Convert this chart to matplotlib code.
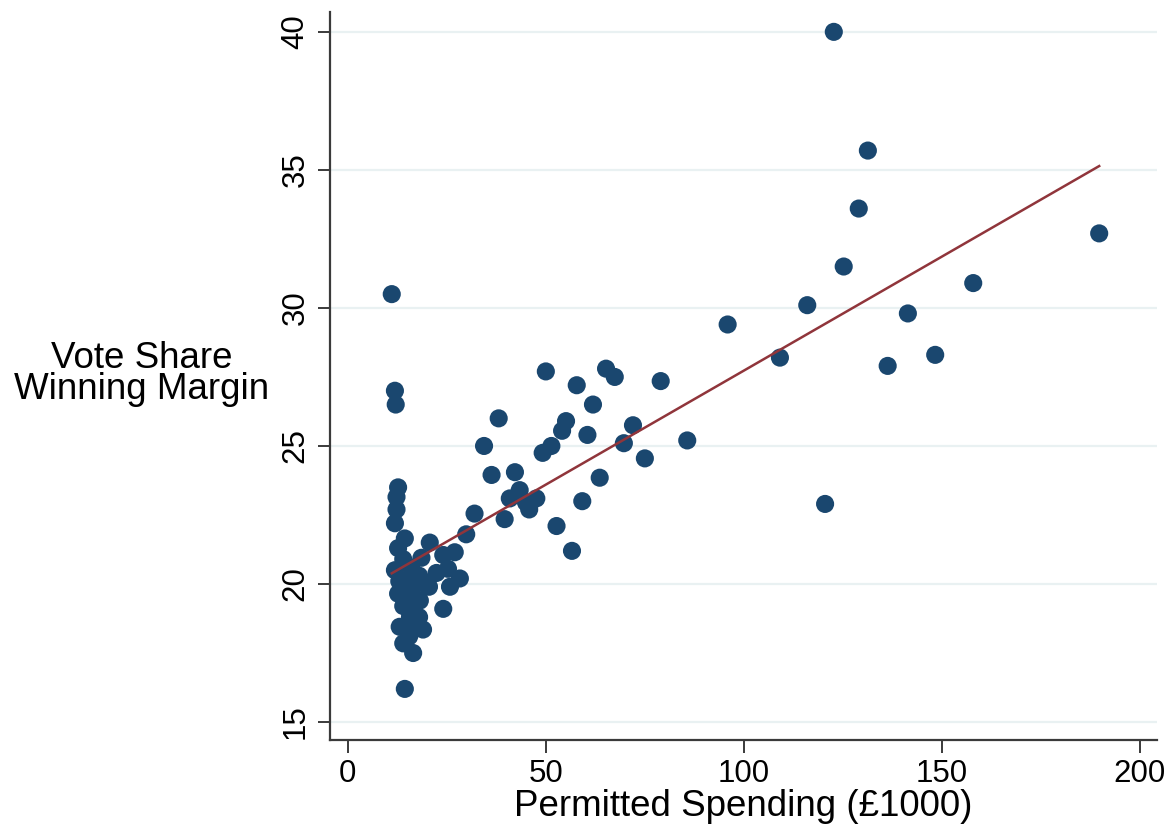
import numpy as np
import matplotlib
matplotlib.use("Agg")
import matplotlib.pyplot as plt

plt.rcParams.update({"font.family": ["Liberation Sans", "DejaVu Sans"]})

DOT = "#1a476f"
FIT = "#90353b"
GRID = "#e9f1f2"

# permitted spending (GBP 1000) and vote share winning margin
spend = [
    122.7, 131.3, 129.0, 125.2, 189.7, 157.9, 116.0, 141.4, 95.9, 109.1,
    148.3, 136.3, 120.5, 85.7, 11.1, 11.9, 12.1,
    50.0, 65.2, 67.4, 57.8, 79.0, 38.1, 55.1, 61.9, 54.1, 60.5,
    34.4, 51.4, 49.2, 72.0, 69.7, 75.0, 36.3, 42.2, 63.6, 43.4,
    40.9, 47.6, 45.8, 45.0, 59.2, 32.0, 39.6, 52.7, 56.6, 29.9,
    12.7, 12.3, 12.3, 11.9, 14.4, 12.7, 20.7, 24.1, 27.0, 18.6,
    11.9, 14.0, 16.0, 13.0, 15.5, 22.4, 25.3, 28.3, 18.0, 20.5,
    19.5, 25.8, 16.5, 12.7, 14.8, 18.2, 14.0, 16.5, 24.1, 15.7,
    18.0, 13.1, 15.0, 19.0, 17.0, 14.0, 15.5, 16.5, 14.4,
]
margin = [
    40.0, 35.7, 33.6, 31.5, 32.7, 30.9, 30.1, 29.8, 29.4, 28.2,
    28.3, 27.9, 22.9, 25.2, 30.5, 27.0, 26.5,
    27.7, 27.8, 27.5, 27.2, 27.35, 26.0, 25.9, 26.5, 25.55, 25.4,
    25.0, 25.0, 24.75, 25.75, 25.1, 24.55, 23.95, 24.05, 23.85, 23.4,
    23.1, 23.1, 22.7, 22.95, 23.0, 22.55, 22.35, 22.1, 21.2, 21.8,
    23.5, 23.15, 22.7, 22.2, 21.65, 21.3, 21.5, 21.05, 21.15, 20.95,
    20.5, 20.9, 20.6, 20.1, 20.2, 20.4, 20.55, 20.2, 20.3, 19.9,
    20.0, 19.9, 19.9, 19.65, 19.6, 19.4, 19.2, 19.1, 19.1, 18.8,
    18.8, 18.45, 18.5, 18.35, 18.4, 17.85, 18.1, 17.5, 16.2,
]

# linear fit as drawn in the figure (intercept, slope)
fit_a, fit_b = 19.47, 0.0826

x = np.array(spend)
y = np.array(margin)
xf = np.array([x.min(), x.max()])

fig = plt.figure(figsize=(11.68, 8.32), dpi=100)
ax = fig.add_axes([0.2825, 0.1106, 0.7081, 0.875])

ax.set_xlim(-4.5, 204.3)
ax.set_ylim(14.35, 40.72)
ax.set_yticks([15, 20, 25, 30, 35, 40])
ax.set_xticks([0, 50, 100, 150, 200])
for v in [15, 20, 25, 30, 35, 40]:
    ax.axhline(v, color=GRID, lw=1.6, zorder=0)

ax.scatter(x, y, s=170, color=DOT, edgecolors="none", zorder=3)
ax.plot(xf, fit_a + fit_b * xf, color=FIT, lw=1.8, zorder=4)

for s in ["top", "right"]:
    ax.spines[s].set_visible(False)
for s in ["left", "bottom"]:
    ax.spines[s].set_color("#3a3a3a")
    ax.spines[s].set_linewidth(1.6)
ax.tick_params(direction="out", length=9, width=1.4, color="#3a3a3a",
               labelsize=22.5, pad=5)
plt.setp(ax.get_yticklabels(), rotation=90, va="center")

ax.set_xlabel("Permitted Spending (\u00a31000)", fontsize=26.5, labelpad=0)
fig.text(142 / 1168, 1 - 374 / 832, "Vote Share\nWinning Margin", fontsize=26.5,
         ha="center", va="center", linespacing=0.85)

fig.savefig("out.png", dpi=100, facecolor="white")
